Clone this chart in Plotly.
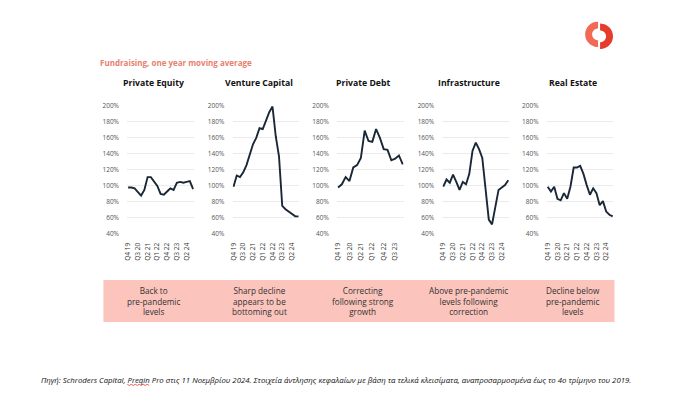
import math
import plotly.graph_objects as go

W, H = 700, 420

quarters = ["Q4 19", "Q1 20", "Q2 20", "Q3 20", "Q4 20", "Q1 21", "Q2 21", "Q3 21",
            "Q4 21", "Q1 22", "Q2 22", "Q3 22", "Q4 22", "Q1 23", "Q2 23", "Q3 23",
            "Q4 23", "Q1 24", "Q2 24", "Q3 24", "Q4 24"]

panel_titles = ["Private Equity", "Venture Capital", "Private Debt", "Infrastructure", "Real Estate"]

private_equity = [98, 98, 97, 93, 88, 95, 111, 111, 105, 100, 90, 89, 93, 97, 95, 104, 105, 104, 105, 106, 96]
venture_capital = [99, 113, 111, 117, 126, 138, 152, 160, 172, 171, 181, 192, 199, 162, 137, 75, 71, 68, 64, 62, 62]
private_debt = [98, 102, 111, 106, 123, 126, 135, 169, 156, 155, 171, 160, 146, 145, 132, 134, 138, 127]
infrastructure = [99, 108, 104, 114, 105, 95, 105, 102, 115, 144, 154, 146, 135, 95, 58, 52, 74, 95, 98, 101, 107]
real_estate = [99, 93, 99, 84, 82, 91, 84, 99, 123, 123, 125, 115, 101, 89, 97, 91, 76, 81, 68, 64, 62]

series = [private_equity, venture_capital, private_debt, infrastructure, real_estate]

y_ticks = [40, 60, 80, 100, 120, 140, 160, 180, 200]
y_tick_labels = ["40%", "60%", "80%", "100%", "120%", "140%", "160%", "180%", "200%"]

notes = ["Back to<br>pre-pandemic<br>levels",
         "Sharp decline<br>appears to be<br>bottoming out",
         "Correcting<br>following strong<br>growth",
         "Above pre-pandemic<br>levels following<br>correction",
         "Decline below<br>pre-pandemic<br>levels"]

chart_title = "Fundraising, one year moving average"
source_text = ("Πηγή: Schroders Capital, Preqin Pro στις 11 Νοεμβρίου 2024. Στοιχεία άντλησης κεφαλαίων "
               "με βάση τα τελικά κλεισίματα, αναπροσαρμοσμένα έως το 4ο τρίμηνο του 2019.")

# layout geometry (pixels)
panel_left = [124, 230, 335, 441, 546]
panel_width = 67
plot_top, plot_bottom = 103, 234

FONT = "Open Sans"
fig = go.Figure()
layout = dict(
    width=W, height=H, autosize=False,
    margin=dict(l=0, r=0, t=0, b=0),
    paper_bgcolor="white", plot_bgcolor="white",
    showlegend=False,
    font=dict(family=FONT, color="#333333"),
)

def px(x):
    return x / W

def py(y):
    return 1 - y / H

annotations = []
shapes = []
for i, (vals, title) in enumerate(zip(series, panel_titles)):
    n = len(vals)
    xs = quarters[:n]
    sfx = "" if i == 0 else str(i + 1)
    fig.add_trace(go.Scatter(
        x=xs, y=vals, mode="lines",
        line=dict(color="#1a2736", width=1.9),
        xaxis="x" + sfx, yaxis="y" + sfx, hoverinfo="skip",
    ))
    x0 = px(panel_left[i])
    x1 = px(panel_left[i] + panel_width)
    layout["xaxis" + sfx] = dict(
        domain=[x0, x1], anchor="y" + sfx, type="category",
        categoryorder="array", categoryarray=xs,
        range=[-0.25, n - 0.75],
        tickvals=xs[::3], ticktext=xs[::3], tickangle=-90,
        tickfont=dict(size=6.6, color="#333333", family=FONT),
        showgrid=False, zeroline=False, showline=False,
        ticks="outside", ticklen=5, tickcolor="rgba(0,0,0,0)",
        fixedrange=True,
    )
    layout["yaxis" + sfx] = dict(
        domain=[py(plot_bottom), py(plot_top)], anchor="x" + sfx,
        range=[40, 200], tickvals=y_ticks, ticktext=y_tick_labels,
        tickfont=dict(size=6.5, color="#555555", family=FONT),
        showgrid=True, gridcolor="#e6e6e6", gridwidth=0.8,
        zeroline=False, showline=False,
        ticks="outside", ticklen=6, tickcolor="rgba(0,0,0,0)",
        fixedrange=True,
    )
    cx = panel_left[i] + panel_width / 2
    annotations.append(dict(
        text="<b>" + title + "</b>", x=px(cx - 7), y=py(80), xref="paper", yref="paper",
        showarrow=False, xanchor="center", yanchor="middle",
        font=dict(size=8.7, color="#111111", family=FONT),
    ))
    annotations.append(dict(
        text=notes[i], x=px(cx - 7), y=py(302), xref="paper", yref="paper",
        showarrow=False, xanchor="center", yanchor="middle", align="center",
        font=dict(size=8.2, color="#333333", family=FONT),
    ))

annotations.append(dict(
    text="<b>" + chart_title + "</b>", x=px(95), y=py(59), xref="paper", yref="paper",
    showarrow=False, xanchor="left", yanchor="middle",
    font=dict(size=8.0, color="#e8806e", family=FONT),
))
annotations.append(dict(
    text="<i>" + source_text + "</i>", x=px(35), y=py(383), xref="paper", yref="paper",
    showarrow=False, xanchor="left", yanchor="middle",
    font=dict(size=7.8, color="#111111", family=FONT),
))

# pink notes box
shapes.append(dict(type="rect", xref="paper", yref="paper",
                   x0=px(100), x1=px(614), y0=py(324), y1=py(281),
                   fillcolor="#fbc4bc", line=dict(width=0), layer="below"))

# logo: two half rings
def half_ring(cx, cy, r_out, r_in, a0, a1, steps=24):
    pts = []
    for k in range(steps + 1):
        a = math.radians(a0 + (a1 - a0) * k / steps)
        pts.append((cx + r_out * math.cos(a), cy - r_out * math.sin(a)))
    for k in range(steps + 1):
        a = math.radians(a1 - (a1 - a0) * k / steps)
        pts.append((cx + r_in * math.cos(a), cy - r_in * math.sin(a)))
    return "M " + " L ".join(f"{px(x):.5f},{py(y):.5f}" for x, y in pts) + " Z"

shapes.append(dict(type="path", xref="paper", yref="paper",
                   path=half_ring(597.5, 30, 13, 6, 90, 270),
                   fillcolor="#f26a55", line=dict(width=0)))
shapes.append(dict(type="path", xref="paper", yref="paper",
                   path=half_ring(599.5, 32, 13, 6, -90, 90),
                   fillcolor="#e63c2c", line=dict(width=0)))

# spell-check squiggle under "Preqin"
squig = []
for k in range(12):
    squig.append((124 + k * 2.0, 388 + (0.8 if k % 2 else -0.4)))
shapes.append(dict(type="path", xref="paper", yref="paper",
                   path="M " + " L ".join(f"{px(x):.5f},{py(y):.5f}" for x, y in squig),
                   line=dict(color="#e03a3a", width=0.8)))

layout["annotations"] = annotations
layout["shapes"] = shapes
fig.update_layout(**layout)
fig.write_html(
    "out.html",
    config={"displayModeBar": False, "staticPlot": True},
    post_script="document.body.style.margin='0';document.body.style.padding='0';"
                "document.body.style.overflow='hidden';"
                "document.documentElement.style.overflow='hidden';",
)
